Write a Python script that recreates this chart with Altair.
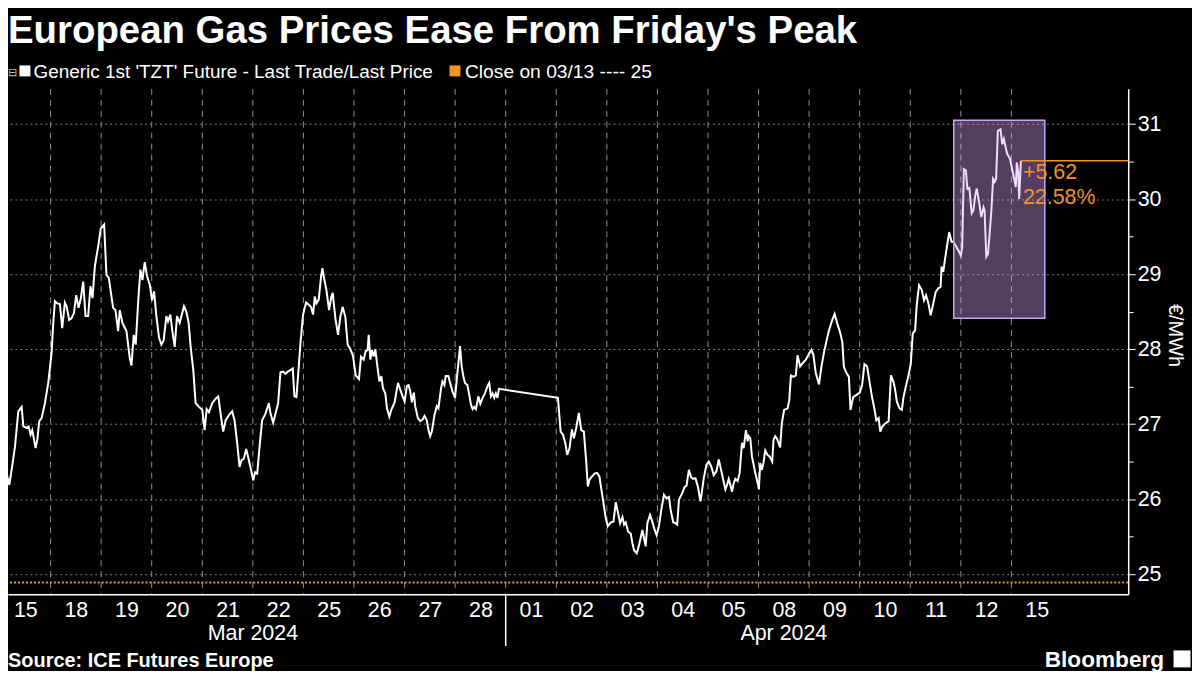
import altair as alt
import pandas as pd

FONT = "Liberation Sans, Arial, sans-serif"
WHITE = "#ffffff"
ORANGE = "#f7941d"
ORANGE_TXT = "#f0922b"

title_text = "European Gas Prices Ease From Friday's Peak"
legend_main = "Generic 1st 'TZT' Future - Last Trade/Last Price"
legend_close = "Close on 03/13 ---- 25"
source_text = "Source: ICE Futures Europe"
brand_text = "Bloomberg"
y_title = "€/MWh"

day_labels = ["15", "18", "19", "20", "21", "22", "25", "26", "27", "28",
              "01", "02", "03", "04", "05", "08", "09", "10", "11", "12", "15"]
month_labels = ["Mar 2024", "Apr 2024"]
month_centers = [5.0, 15.5]
month_break = 10
day_bounds = list(range(1, 21))

x_domain = [0.158, 22.31]
y_domain = [24.734, 31.469]
y_ticks = [25, 25.5, 26, 26.5, 27, 27.5, 28, 28.5, 29, 29.5, 30, 30.5, 31]

close_value = 24.89
last_pos = 20.188
last_value = 30.51
change_labels = ["+5.62", "22.58%"]
change_values = [30.35, 30.02]
box_x = [18.86, 20.66]
box_y = [28.41, 31.05]

# trading-day position (1 unit = one trading day from Mar 15) and price
pos = [
    0.000, 0.033, 0.079, 0.105, 0.145, 0.184, 0.230, 0.296, 0.362, 0.428,
    0.461, 0.526, 0.566, 0.605, 0.638, 0.704, 0.737, 0.776, 0.822, 0.888,
    0.954, 1.020, 1.053, 1.086, 1.132, 1.184, 1.230, 1.283, 1.316, 1.368,
    1.414, 1.461, 1.507, 1.553, 1.599, 1.645, 1.691, 1.743, 1.789, 1.829,
    1.875, 1.941, 1.993, 2.059, 2.105, 2.151, 2.237, 2.283, 2.336, 2.368,
    2.421, 2.500, 2.566, 2.599, 2.645, 2.684, 2.730, 2.776, 2.816, 2.862,
    2.908, 2.961, 3.007, 3.046, 3.092, 3.145, 3.191, 3.237, 3.289, 3.322,
    3.368, 3.408, 3.454, 3.500, 3.553, 3.638, 3.684,
    3.730, 3.770, 3.822, 3.868, 3.934, 4.000, 4.046, 4.086, 4.132, 4.197,
    4.263, 4.316, 4.362, 4.414, 4.461, 4.526, 4.592, 4.638, 4.691, 4.737,
    4.776, 4.822, 4.868, 4.921, 4.974, 5.007, 5.046, 5.086, 5.138, 5.184,
    5.250, 5.316, 5.349, 5.401, 5.447, 5.500, 5.546, 5.599, 5.645, 5.691,
    5.743, 5.789, 5.822, 5.862, 5.908, 5.941, 5.993, 6.053, 6.105, 6.151,
    6.191, 6.224, 6.257, 6.303, 6.349, 6.375, 6.401, 6.454, 6.507, 6.553,
    6.579, 6.632, 6.684, 6.730, 6.776, 6.829, 6.875, 6.928, 6.980, 7.033,
    7.099, 7.138, 7.191, 7.230, 7.270,
    7.291, 7.324, 7.357, 7.389, 7.422, 7.455, 7.501, 7.540, 7.573, 7.619,
    7.652, 7.698, 7.737, 7.803, 7.869, 7.915, 7.961, 8.000, 8.046, 8.079,
    8.112, 8.144, 8.184, 8.210, 8.263, 8.309, 8.355, 8.394, 8.440, 8.473,
    8.506, 8.538, 8.591, 8.637, 8.670, 8.722, 8.749, 8.788, 8.814, 8.867,
    8.900, 8.946, 8.998, 9.031, 9.064, 9.097, 9.129, 9.162, 9.195, 9.241,
    9.274, 9.313, 9.346, 9.379, 9.412, 9.458, 9.497, 9.543, 9.589, 9.641,
    9.674, 9.707, 9.740, 9.773, 9.806, 9.838, 9.865,
    11.033, 11.086, 11.132, 11.178, 11.217, 11.263, 11.309, 11.349, 11.395, 11.447,
    11.493, 11.546, 11.592, 11.624, 11.657, 11.703, 11.756, 11.808, 11.854, 11.887,
    11.933, 11.972, 12.018,
    12.079, 12.131, 12.177, 12.223, 12.263, 12.309, 12.341, 12.374, 12.420, 12.473,
    12.506, 12.538, 12.591, 12.637, 12.703, 12.735, 12.768, 12.801, 12.854, 12.900,
    12.945, 12.985, 13.031, 13.077, 13.129, 13.182, 13.228, 13.261, 13.313, 13.359,
    13.392, 13.425, 13.490, 13.536, 13.576, 13.622, 13.668, 13.707, 13.753, 13.799,
    13.852, 13.884, 13.917, 13.970, 14.016, 14.062, 14.114, 14.167, 14.213, 14.259,
    14.298, 14.344, 14.377, 14.410, 14.443, 14.476, 14.508, 14.541, 14.587, 14.626,
    14.672, 14.705, 14.751, 14.784, 14.804, 14.837, 14.869, 14.935, 14.968, 15.007,
    15.033, 15.066, 15.099, 15.132, 15.178, 15.217, 15.270, 15.296, 15.329, 15.362,
    15.395, 15.427, 15.460, 15.506,
    15.574, 15.607, 15.640, 15.692, 15.738, 15.771, 15.823, 15.869, 15.935, 16.000,
    16.046, 16.085, 16.131, 16.196, 16.242, 16.295, 16.347, 16.393, 16.458, 16.504,
    16.557, 16.609, 16.655, 16.688, 16.740, 16.786, 16.819, 16.871, 16.936, 17.002,
    17.048, 17.094, 17.146, 17.179, 17.244, 17.290, 17.329, 17.375, 17.408, 17.441,
    17.506, 17.572, 17.618, 17.670, 17.703, 17.735, 17.788, 17.834, 17.866, 17.919,
    17.965, 18.010, 18.050, 18.096, 18.128, 18.174, 18.227, 18.272, 18.312, 18.358,
    18.403, 18.456, 18.502, 18.554, 18.600, 18.619, 18.652, 18.685, 18.731, 18.770,
    18.816, 18.849, 18.914, 18.979,
    19.000, 19.027, 19.060, 19.101, 19.128, 19.168, 19.215, 19.248, 19.282, 19.315,
    19.362, 19.403, 19.450, 19.470, 19.503, 19.537, 19.570, 19.604, 19.638, 19.671,
    19.698, 19.732, 19.785, 19.819, 19.852, 19.886, 19.919, 19.973, 20.020, 20.054,
    20.087, 20.107, 20.134, 20.154, 20.188,
]

price = [
    26.61, 26.48, 26.46, 26.49, 26.30, 26.19, 26.39, 26.70, 27.17, 27.23,
    26.97, 26.95, 26.97, 26.86, 26.92, 26.68, 26.79, 27.04, 27.08, 27.28,
    27.55, 27.95, 28.35, 28.64, 28.61, 28.60, 28.28, 28.62, 28.57, 28.39,
    28.41, 28.48, 28.72, 28.55, 28.68, 28.90, 28.44, 28.44, 28.84, 28.68,
    29.10, 29.37, 29.61, 29.66, 28.99, 28.95, 28.55, 28.52, 28.24, 28.52,
    28.35, 28.24, 27.88, 27.78, 28.19, 28.06, 28.61, 29.06, 28.92, 29.16,
    28.97, 28.86, 28.65, 28.77, 28.44, 28.15, 28.06, 28.12, 28.44, 28.37,
    28.46, 28.24, 28.03, 28.44, 28.35, 28.57, 28.50,
    28.35, 28.03, 27.72, 27.28, 27.23, 27.19, 26.92, 27.20, 27.16, 27.28,
    27.34, 27.37, 27.14, 26.90, 27.05, 27.12, 27.17, 27.05, 26.74, 26.43,
    26.52, 26.54, 26.67, 26.52, 26.36, 26.25, 26.36, 26.34, 26.74, 27.05,
    27.14, 27.28, 27.14, 27.02, 27.14, 27.28, 27.69, 27.70, 27.67, 27.70,
    27.72, 27.74, 27.37, 27.36, 27.77, 28.08, 28.46, 28.62, 28.59, 28.56,
    28.46, 28.70, 28.61, 28.66, 28.97, 29.08, 28.97, 28.79, 28.52, 28.70,
    28.75, 28.41, 28.19, 28.43, 28.56, 28.43, 28.06, 28.00, 27.91, 27.65,
    27.60, 27.90, 27.86, 27.97, 27.99,
    28.19, 27.86, 27.99, 27.90, 28.00, 27.81, 27.57, 27.64, 27.48, 27.41,
    27.21, 27.10, 27.19, 27.29, 27.55, 27.46, 27.37, 27.30, 27.51, 27.52,
    27.44, 27.29, 27.42, 27.24, 27.08, 27.04, 27.06, 27.11, 27.05, 26.92,
    26.84, 26.90, 27.12, 27.24, 27.21, 27.48, 27.57, 27.52, 27.64, 27.64,
    27.55, 27.44, 27.35, 27.59, 27.81, 28.04, 27.77, 27.64, 27.55, 27.52,
    27.41, 27.26, 27.20, 27.23, 27.20, 27.37, 27.27, 27.35, 27.41, 27.51,
    27.55, 27.37, 27.41, 27.35, 27.41, 27.35, 27.47,
    27.35, 26.90, 26.86, 26.75, 26.59, 26.68, 26.93, 26.81, 26.95, 27.15,
    26.92, 26.90, 26.50, 26.17, 26.26, 26.30, 26.34, 26.35, 26.30, 26.15,
    25.95, 25.77, 25.64,
    25.69, 25.70, 25.96, 25.81, 25.68, 25.76, 25.66, 25.69, 25.57, 25.54,
    25.41, 25.32, 25.28, 25.39, 25.59, 25.48, 25.37, 25.68, 25.79, 25.70,
    25.59, 25.52, 25.64, 25.86, 26.06, 26.01, 26.03, 25.86, 25.69, 25.68,
    25.66, 25.99, 26.08, 26.16, 26.18, 26.39, 26.29, 26.27, 26.28, 26.17,
    25.97, 26.12, 26.28, 26.46, 26.50, 26.44, 26.32, 26.37, 26.53, 26.39,
    26.27, 26.13, 26.19, 26.27, 26.19, 26.10, 26.21, 26.27, 26.24, 26.35,
    26.75, 26.68, 26.92, 26.77, 26.84, 26.81, 26.57, 26.35, 26.26, 26.13,
    26.48, 26.39, 26.49, 26.65, 26.59, 26.57, 26.50, 26.79, 26.84, 26.81,
    26.75, 26.69, 27.01, 27.19,
    27.21, 27.32, 27.65, 27.63, 27.65, 27.92, 27.77, 27.81, 27.86, 27.94,
    27.99, 27.92, 27.68, 27.53, 27.76, 27.96, 28.12, 28.25, 28.39, 28.47,
    28.34, 28.23, 28.10, 27.76, 27.68, 27.63, 27.19, 27.36, 27.39, 27.42,
    27.52, 27.80, 27.77, 27.63, 27.36, 27.21, 27.05, 27.08, 26.90, 26.96,
    27.01, 27.04, 27.65, 27.56, 27.45, 27.30, 27.21, 27.19, 27.36, 27.52,
    27.65, 27.80, 28.21, 28.25, 28.59, 28.85, 28.79, 28.65, 28.72, 28.61,
    28.45, 28.61, 28.76, 28.81, 28.83, 29.10, 29.03, 29.19, 29.39, 29.56,
    29.43, 29.43, 29.36, 29.28,
    29.25, 29.36, 30.40, 30.38, 30.14, 30.15, 29.81, 29.85, 30.03, 30.14,
    29.96, 29.76, 29.89, 29.85, 29.23, 29.27, 29.54, 29.85, 30.27, 30.23,
    30.27, 30.91, 30.93, 30.73, 30.80, 30.69, 30.60, 30.54, 30.38, 30.27,
    30.16, 30.49, 30.36, 30.00, 30.51,
]

W, H = 1124, 507

xscale = alt.Scale(domain=x_domain, nice=False, zero=False)
yscale = alt.Scale(domain=y_domain, nice=False, zero=False)

label_array = "[" + ",".join("'" + d + "'" for d in day_labels) + "]"
x_axis = alt.Axis(
    values=[i + 0.5 for i in range(len(day_labels))],
    labelExpr=label_array + "[floor(datum.value)]",
    ticks=False, tickSize=0, grid=False,
    domainColor=WHITE, domainWidth=1.5,
    labelColor=WHITE, labelFontSize=21.5, labelFont=FONT, labelPadding=5,
    labelFlush=False, labelOverlap=False, labelBound=False, title=None,
)
is_int = "datum.value % 1 === 0"
y_axis = alt.Axis(
    orient="right", values=y_ticks,
    labelExpr=is_int + " ? format(datum.value, 'd') : ''",
    grid=True, gridColor="#7d7d7d", gridDash=[2, 3], gridWidth=1,
    gridOpacity={"condition": {"test": is_int, "value": 1}, "value": 0},
    tickColor=WHITE,
    tickSize={"condition": {"test": is_int, "value": 7}, "value": 5},
    domainColor=WHITE, domainWidth=1.5,
    labelColor=WHITE, labelFontSize=21.5, labelFont=FONT, labelPadding=2,
    labelOverlap=False, title=None,
)


def X(field):
    return alt.X(field, type="quantitative", scale=xscale, axis=x_axis)


def Y(field):
    return alt.Y(field, type="quantitative", scale=yscale, axis=y_axis)


df = pd.DataFrame({"pos": pos, "price": price})

vgrid = alt.Chart(pd.DataFrame({"b": day_bounds})).mark_rule(
    color="#8f8f8f", strokeDash=[6, 5], strokeWidth=1
).encode(x=X("b"))

close_rule = alt.Chart(pd.DataFrame({"c": [close_value]})).mark_rule(
    color=ORANGE, strokeDash=[2, 2], strokeWidth=2
).encode(y=Y("c"))

line = alt.Chart(df).mark_line(color=WHITE, strokeWidth=2, clip=True).encode(
    x=X("pos"), y=Y("price"),
)

box = alt.Chart(pd.DataFrame({"x1": [box_x[0]], "x2": [box_x[1]],
                              "y1": [box_y[0]], "y2": [box_y[1]]})).mark_rect(
    fill="#e09eff", fillOpacity=0.38, stroke="#c9a3f0", strokeWidth=1.5
).encode(x=X("x1"), x2="x2:Q", y=Y("y1"), y2="y2:Q")

connector = alt.Chart(pd.DataFrame({"a": [last_pos], "b": [x_domain[1]],
                                    "v": [last_value]})).mark_rule(
    color=ORANGE, strokeWidth=1.5
).encode(x=X("a"), x2="b:Q", y=Y("v"))

change_txt = alt.Chart(pd.DataFrame({"t": change_labels, "v": change_values,
                                     "p": [last_pos, last_pos]})).mark_text(
    align="left", baseline="middle", fontSize=21.5, font=FONT, color=ORANGE_TXT, dx=2
).encode(x=X("p"), y=Y("v"), text="t:N")

months = alt.Chart(pd.DataFrame({"m": month_labels, "c": month_centers})).mark_text(
    align="center", baseline="alphabetic", fontSize=21.5, font=FONT, color=WHITE
).encode(x=X("c"), y=alt.value(H + 46), text="m:N")

month_rule = alt.Chart(pd.DataFrame({"m": [month_break]})).mark_rule(
    color=WHITE, strokeWidth=1.5
).encode(x=X("m"), y=alt.value(H), y2=alt.value(H + 52))


def label(text, x, y, size, color=WHITE, weight="normal", align="left",
          baseline="alphabetic", angle=0):
    kw = dict(align=align, baseline=baseline, fontSize=size, fontWeight=weight,
              color=color, font=FONT)
    if angle:
        kw["angle"] = angle
    return alt.Chart(pd.DataFrame({"t": [text]})).mark_text(**kw).encode(
        text="t:N", x=alt.value(x), y=alt.value(y)
    )


def square(x, y, color, size):
    return alt.Chart(pd.DataFrame({"k": [0]})).mark_square(
        color=color, filled=True, size=size, opacity=1
    ).encode(x=alt.value(x), y=alt.value(y))


layers = [
    vgrid, close_rule, line, box, connector, change_txt, months, month_rule,
    label(title_text, 0, -46, 38.5, weight="bold"),
    label("⊟", 0, -13, 11, color="#bdbdbd"),
    square(17, -18, WHITE, 121),
    label(legend_main, 25.5, -11, 19),
    square(448.5, -18, ORANGE, 121),
    label(legend_close, 458.5, -11, 19.3),
    label(source_text, 0, H + 73, 20, weight="bold"),
    label(brand_text, 1160, H + 73, 22.7, weight="bold", align="right"),
    square(1178, H + 65, WHITE, 290),
    label(y_title, 1171, H / 2 - 6, 20, align="center", baseline="middle", angle=90),
]

chart = alt.layer(*layers).properties(
    width=W, height=H, background="black",
    autosize=alt.AutoSizeParams(type="none"),
    padding={"left": 0, "top": 80, "right": 64, "bottom": 76},
).configure_view(stroke=None)

chart.save("out.html", embed_options={"renderer": "svg", "actions": False})
